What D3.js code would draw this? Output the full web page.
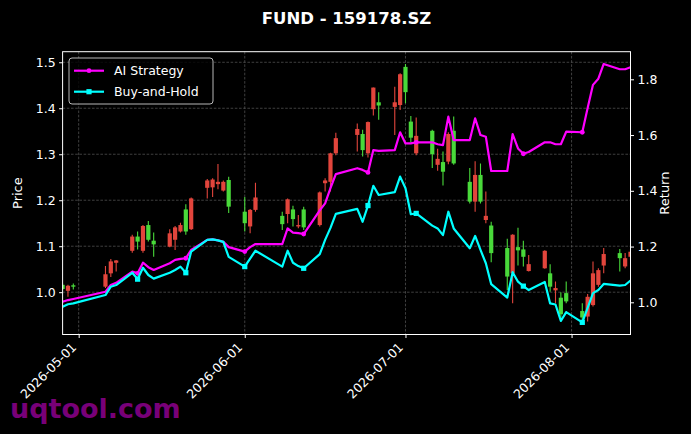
<!DOCTYPE html>
<html>
<head>
<meta charset="utf-8">
<script src="https://cdn.jsdelivr.net/npm/d3@7"></script>
<style>
  html, body { margin: 0; padding: 0; background: #000; }
  svg { display: block; font-family: "DejaVu Sans", sans-serif; }
</style>
</head>
<body>
<div id="chart"></div>
<script>
// Chart data
const dates = [
  "2026-04-28","2026-04-29","2026-04-30",
  "2026-05-06","2026-05-07","2026-05-08",
  "2026-05-11","2026-05-12","2026-05-13","2026-05-14","2026-05-15",
  "2026-05-18","2026-05-19","2026-05-20","2026-05-21","2026-05-22",
  "2026-05-25","2026-05-26","2026-05-27","2026-05-28","2026-05-29",
  "2026-06-01","2026-06-02","2026-06-03",
  "2026-06-08","2026-06-09","2026-06-10","2026-06-11","2026-06-12",
  "2026-06-15","2026-06-16","2026-06-17","2026-06-18",
  "2026-06-22","2026-06-23","2026-06-24","2026-06-25","2026-06-26",
  "2026-06-29","2026-06-30","2026-07-01","2026-07-02","2026-07-03",
  "2026-07-06","2026-07-07","2026-07-08","2026-07-09","2026-07-10",
  "2026-07-13","2026-07-14","2026-07-15","2026-07-16","2026-07-17",
  "2026-07-20","2026-07-21","2026-07-22","2026-07-23","2026-07-24",
  "2026-07-27","2026-07-28","2026-07-29","2026-07-30","2026-07-31",
  "2026-08-03","2026-08-04","2026-08-05","2026-08-06","2026-08-07",
  "2026-08-10","2026-08-11","2026-08-12"
];
const open = [
  1.016, 1.003, 1.015,
  1.012, 1.041, 1.064,
  1.090, 1.121, 1.090, 1.146, 1.112,
  1.099, 1.114, 1.132, 1.180, 1.137,
  1.227, 1.228, 1.235, 1.221, 1.244,
  1.175, 1.143, 1.179,
  1.166, 1.170, 1.180, 1.143, 1.180,
  1.146, 1.237, 1.240, 1.302,
  1.342, 1.344, 1.302, 1.398, 1.413,
  1.403, 1.407, 1.490, 1.371, 1.302,
  1.351, 1.277, 1.283, 1.284, 1.351,
  1.240, 1.197, 1.255, 1.157, 1.145,
  1.096, 1.041, 1.098, 1.093, 1.046,
  1.052, 1.041, 1.004, 0.988, 0.998,
  0.959, 0.947, 0.972, 1.016, 1.058,
  1.085, 1.056, 1.077
];
const high = [
  1.019, 1.016, 1.019,
  1.057, 1.072, 1.070,
  1.125, 1.132, 1.146, 1.155, 1.130,
  1.137, 1.144, 1.151, 1.191, 1.206,
  1.246, 1.248, 1.279, 1.243, 1.251,
  1.207, 1.181, 1.238,
  1.175, 1.204, 1.188, 1.168, 1.186,
  1.219, 1.248, 1.303, 1.347,
  1.367, 1.353, 1.371, 1.445, 1.435,
  1.447, 1.476, 1.496, 1.383, 1.380,
  1.353, 1.312, 1.306, 1.348, 1.382,
  1.270, 1.285, 1.280, 1.219, 1.153,
  1.116, 1.126, 1.140, 1.112, 1.081,
  1.091, 1.061, 1.023, 1.000, 1.023,
  0.976, 0.996, 1.067, 1.052, 1.096,
  1.094, 1.085, 1.095
];
const low = [
  1.004, 0.990, 1.006,
  1.009, 1.033, 1.045,
  1.086, 1.093, 1.086, 1.110, 1.077,
  1.098, 1.092, 1.130, 1.125, 1.135,
  1.204, 1.207, 1.224, 1.219, 1.172,
  1.132, 1.128, 1.175,
  1.135, 1.150, 1.143, 1.139, 1.135,
  1.143, 1.219, 1.219, 1.298,
  1.306, 1.295, 1.293, 1.384, 1.375,
  1.342, 1.396, 1.411, 1.326, 1.298,
  1.270, 1.264, 1.232, 1.278, 1.277,
  1.193, 1.175, 1.193, 1.150, 1.065,
  1.005, 0.976, 1.058, 1.056, 1.045,
  1.051, 1.001, 0.976, 0.936, 0.976,
  0.933, 0.936, 0.969, 1.012, 1.041,
  1.045, 1.052, 1.070
];
const close = [
  1.007, 1.014, 1.012,
  1.039, 1.067, 1.069,
  1.121, 1.110, 1.144, 1.114, 1.104,
  1.128, 1.141, 1.146, 1.132, 1.204,
  1.243, 1.245, 1.240, 1.240, 1.186,
  1.150, 1.179, 1.206,
  1.148, 1.202, 1.159, 1.146, 1.141,
  1.217, 1.243, 1.302, 1.335,
  1.355, 1.309, 1.370, 1.445, 1.406,
  1.413, 1.474, 1.435, 1.336, 1.340,
  1.300, 1.290, 1.262, 1.344, 1.280,
  1.197, 1.255, 1.197, 1.166, 1.085,
  1.034, 1.125, 1.091, 1.077, 1.061,
  1.090, 1.012, 1.009, 0.952, 0.980,
  0.945, 0.990, 1.041, 1.048, 1.083,
  1.074, 1.074, 1.088
];
const strategy = [
  1.002, 1.008, 1.012,
  1.038, 1.062, 1.070,
  1.110, 1.104, 1.142, 1.126, 1.116,
  1.140, 1.152, 1.156, 1.158, 1.188,
  1.224, 1.226, 1.222, 1.217, 1.198,
  1.182, 1.198, 1.209,
  1.209, 1.265, 1.250, 1.248, 1.245,
  1.330, 1.355, 1.410, 1.460,
  1.481, 1.475, 1.466, 1.546, 1.543,
  1.546, 1.610, 1.570, 1.570, 1.574,
  1.574, 1.567, 1.564, 1.666, 1.582,
  1.582, 1.660, 1.600, 1.594, 1.471,
  1.471, 1.603, 1.552, 1.533, 1.539,
  1.574, 1.574, 1.567, 1.567, 1.612,
  1.610, 1.697, 1.780, 1.802, 1.855,
  1.836, 1.836, 1.843
];
const buyHold = [
  0.984, 0.993, 0.996,
  1.026, 1.056, 1.062,
  1.106, 1.083, 1.124, 1.098, 1.085,
  1.106, 1.116, 1.128, 1.106, 1.182,
  1.224, 1.226, 1.222, 1.217, 1.163,
  1.128, 1.157, 1.185,
  1.128, 1.185, 1.142, 1.130, 1.122,
  1.173, 1.224, 1.267, 1.317,
  1.335, 1.289, 1.347, 1.418, 1.385,
  1.395, 1.451, 1.409, 1.316, 1.319,
  1.275, 1.265, 1.241, 1.325, 1.265,
  1.194, 1.238, 1.188, 1.140, 1.065,
  1.017, 1.108, 1.074, 1.058, 1.044,
  1.073, 0.996, 0.992, 0.933, 0.965,
  0.928, 0.980, 1.033, 1.044, 1.066,
  1.060, 1.062, 1.078
];
const markerDates = ["2026-05-12","2026-05-21","2026-06-01","2026-06-12","2026-06-24","2026-07-03","2026-07-23","2026-08-03"];
const priceTicks = [1.0, 1.1, 1.2, 1.3, 1.4, 1.5];
const returnTicks = [1.0, 1.2, 1.4, 1.6, 1.8];
const dateTicks = ["2026-05-01","2026-06-01","2026-07-01","2026-08-01"];
const title = "FUND - 159178.SZ";

// Layout
const width = 691;
const height = 434;
const plot = { left: 62.6, right: 630.5, top: 51.7, bottom: 334.5 };
const upColor = "#e2453c";
const downColor = "#49d93a";
const gridColor = "#5a5a5a";

const parse = d3.timeParse("%Y-%m-%d");
const days = dates.map(parse);
const candles = dates.map((d, i) => ({ date: days[i], o: open[i], h: high[i], l: low[i], c: close[i] }));

const x = d3.scaleTime()
  .domain([parse("2026-04-28"), parse("2026-08-12")])
  .range([plot.left, plot.right]);
const yPrice = d3.scaleLinear().domain([0.908, 1.523]).range([plot.bottom, plot.top]);
const yReturn = d3.scaleLinear().domain([0.8845, 1.899]).range([plot.bottom, plot.top]);

const svg = d3.select("#chart").append("svg")
  .attr("width", width)
  .attr("height", height);

svg.append("rect").attr("width", width).attr("height", height).attr("fill", "#000");

svg.append("defs").append("clipPath").attr("id", "clip")
  .append("rect")
  .attr("x", plot.left).attr("y", plot.top)
  .attr("width", plot.right - plot.left).attr("height", plot.bottom - plot.top);

// Grid
const grid = svg.append("g").attr("stroke", gridColor).attr("stroke-width", 0.7).attr("stroke-dasharray", "2.6,1.6");
grid.selectAll(".gy").data(priceTicks).join("line")
  .attr("x1", plot.left).attr("x2", plot.right)
  .attr("y1", d => yPrice(d)).attr("y2", d => yPrice(d));
grid.selectAll(".gx").data(dateTicks.map(parse)).join("line")
  .attr("y1", plot.top).attr("y2", plot.bottom)
  .attr("x1", d => x(d)).attr("x2", d => x(d));

// Candlesticks
const bodyW = 4.2;
const candleG = svg.append("g").attr("clip-path", "url(#clip)");
const cg = candleG.selectAll("g").data(candles).join("g")
  .attr("fill", d => d.c >= d.o ? upColor : downColor)
  .attr("stroke", d => d.c >= d.o ? upColor : downColor);
cg.append("line")
  .attr("x1", d => x(d.date)).attr("x2", d => x(d.date))
  .attr("y1", d => yPrice(d.h)).attr("y2", d => yPrice(d.l))
  .attr("stroke-width", 1.1);
cg.append("rect")
  .attr("stroke", "none")
  .attr("x", d => x(d.date) - bodyW / 2)
  .attr("width", bodyW)
  .attr("y", d => yPrice(Math.max(d.o, d.c)))
  .attr("height", d => Math.max(1, Math.abs(yPrice(d.o) - yPrice(d.c))));

// Return lines
const seriesList = [
  { name: "AI Strategy", values: strategy, color: "#ff00ff", marker: "circle" },
  { name: "Buy-and-Hold", values: buyHold, color: "#00ffff", marker: "square" }
];
const lineG = svg.append("g").attr("clip-path", "url(#clip)");
seriesList.forEach(s => {
  const pts = days.map((d, i) => ({ date: d, v: s.values[i], key: dates[i] }));
  const line = d3.line().x(d => x(d.date)).y(d => yReturn(d.v));
  lineG.append("path")
    .datum(pts)
    .attr("fill", "none")
    .attr("stroke", s.color)
    .attr("stroke-width", 2.2)
    .attr("stroke-linejoin", "round")
    .attr("d", line);
  const marks = pts.filter(p => markerDates.includes(p.key));
  if (s.marker === "circle") {
    lineG.selectAll(null).data(marks).join("circle")
      .attr("cx", d => x(d.date)).attr("cy", d => yReturn(d.v))
      .attr("r", 2.4).attr("fill", s.color);
  } else {
    lineG.selectAll(null).data(marks).join("rect")
      .attr("x", d => x(d.date) - 2.6).attr("y", d => yReturn(d.v) - 2.6)
      .attr("width", 5.2).attr("height", 5.2).attr("fill", s.color);
  }
});

// Frame
svg.append("rect")
  .attr("x", plot.left).attr("y", plot.top)
  .attr("width", plot.right - plot.left).attr("height", plot.bottom - plot.top)
  .attr("fill", "none").attr("stroke", "#fff").attr("stroke-width", 1);

// Axes
const styleAxis = g => {
  g.select(".domain").remove();
  g.selectAll(".tick line").attr("stroke", "#fff").attr("stroke-width", 1);
  g.selectAll(".tick text").attr("fill", "#fff").attr("font-size", 12.5).attr("font-family", "DejaVu Sans");
};

svg.append("g")
  .attr("transform", `translate(${plot.left},0)`)
  .call(d3.axisLeft(yPrice).tickValues(priceTicks).tickFormat(d3.format(".1f")).tickSize(3.5).tickPadding(3.5))
  .call(styleAxis);

svg.append("g")
  .attr("transform", `translate(${plot.right},0)`)
  .call(d3.axisRight(yReturn).tickValues(returnTicks).tickFormat(d3.format(".1f")).tickSize(3.5).tickPadding(3.5))
  .call(styleAxis);

const xAxis = svg.append("g")
  .attr("transform", `translate(0,${plot.bottom})`)
  .call(d3.axisBottom(x).tickValues(dateTicks.map(parse)).tickFormat(d3.timeFormat("%Y-%m-%d")).tickSize(3.5))
  .call(styleAxis);
xAxis.selectAll(".tick text")
  .attr("text-anchor", "end")
  .attr("dy", null)
  .attr("y", null)
  .attr("transform", "translate(-2,13.5) rotate(-45)");

// Axis labels
svg.append("text")
  .attr("transform", `translate(21.5,${(plot.top + plot.bottom) / 2}) rotate(-90)`)
  .attr("text-anchor", "middle")
  .attr("fill", "#fff").attr("font-size", 13)
  .text("Price");
svg.append("text")
  .attr("transform", `translate(669,${(plot.top + plot.bottom) / 2}) rotate(-90)`)
  .attr("text-anchor", "middle")
  .attr("fill", "#fff").attr("font-size", 13)
  .text("Return");

// Title
svg.append("text")
  .attr("x", (plot.left + plot.right) / 2).attr("y", 24)
  .attr("text-anchor", "middle")
  .attr("fill", "#fff").attr("font-size", 16.5).attr("font-weight", "bold")
  .text(title);

// Legend
const legend = svg.append("g").attr("transform", "translate(69,58)");
legend.append("rect")
  .attr("width", 144).attr("height", 46).attr("rx", 3)
  .attr("fill", "#000").attr("fill-opacity", 0.8)
  .attr("stroke", "#cccccc").attr("stroke-width", 0.9);
seriesList.forEach((s, i) => {
  const ly = 12.7 + i * 21;
  legend.append("line")
    .attr("x1", 5).attr("x2", 35).attr("y1", ly).attr("y2", ly)
    .attr("stroke", s.color).attr("stroke-width", 2.2);
  if (s.marker === "circle") {
    legend.append("circle").attr("cx", 20).attr("cy", ly).attr("r", 2.4).attr("fill", s.color);
  } else {
    legend.append("rect").attr("x", 17.4).attr("y", ly - 2.6).attr("width", 5.2).attr("height", 5.2).attr("fill", s.color);
  }
  legend.append("text")
    .attr("x", 45).attr("y", ly + 4.5)
    .attr("fill", "#fff").attr("font-size", 12.5)
    .text(s.name);
});

// Watermark
svg.append("text")
  .attr("x", 10).attr("y", 418)
  .attr("fill", "#800080").attr("fill-opacity", 0.95)
  .attr("font-size", 27).attr("font-weight", "bold")
  .text("uqtool.com");
</script>
</body>
</html>
